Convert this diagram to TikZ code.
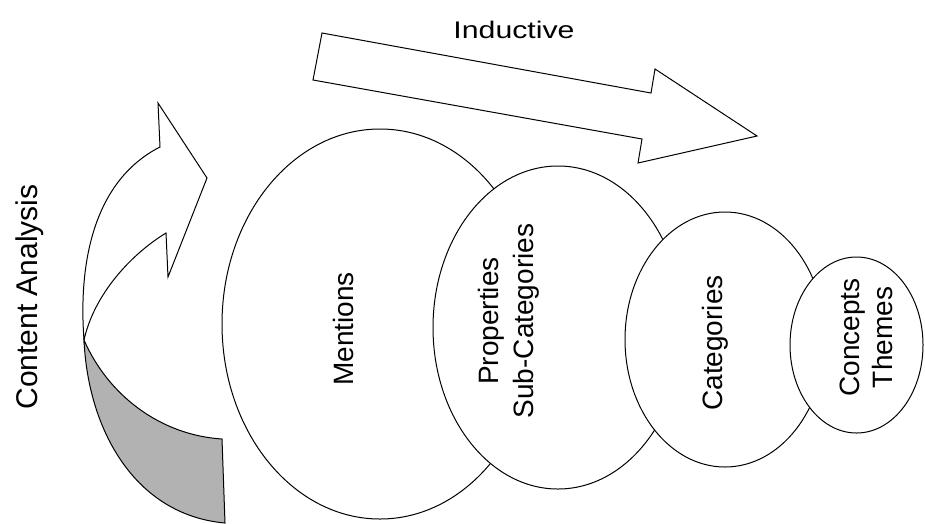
\documentclass[tikz,border=0pt]{standalone}
\usepackage{fontspec}
\setmainfont{Liberation Sans}
\usetikzlibrary{shapes.geometric}

\begin{document}
\begin{tikzpicture}[x=1pt, y=-1pt, line width=1pt,
		blob/.style={ellipse, draw, fill=white, inner sep=0pt},
		word/.style={rotate=90, inner sep=0pt, font=\fontsize{28}{35}\selectfont}]
		\useasboundingbox (0,0) rectangle (925,523);

		% Draw the curved arrow, back part first
		\filldraw[fill=black!30] (84,340) .. controls (108,395) and (160,435) .. (222,439)
			-- (225,523) .. controls (135,515) and (88,430) .. (84,340) -- cycle;
		\filldraw[fill=white] (160,147) -- (158,103) -- (207,178) -- (168,277) -- (166,233)
			.. controls (130,255) and (94,295) .. (84,340)
			.. controls (78,260) and (95,180) .. (160,147) -- cycle;
		\node[word, anchor=base, font=\fontsize{30}{36}\selectfont] (analysis) at (37,297) {Content Analysis};

		% Draw the straight arrow
		\filldraw[fill=white] (322,33) -- (651,93) -- (655,69) -- (757,136)
			-- (638,163) -- (642,139) -- (313,80) -- cycle;
		\node[anchor=base, inner sep=0pt, xscale=1.26, font=\fontsize{24}{28}\selectfont] (inductive) at (514,38) {Inductive};

		% Draw the four stages
		\node[blob, minimum width=316pt, minimum height=390pt] (mentions) at (380,324) {};
		\node[blob, minimum width=250pt, minimum height=323pt] (properties) at (558,327.5) {};
		\node[blob, minimum width=200pt, minimum height=255pt] (categories) at (725,339.5) {};
		\node[blob, minimum width=133pt, minimum height=176pt] (concepts) at (856.5,345) {};

		\node[word, anchor=base] (mentionstext) at (353,329) {Mentions};
		\node[word, align=center] (propertiestext) at (508.5,321) {Properties\\Sub-Categories};
		\node[word, anchor=base] (categoriestext) at (722,343) {Categories};
		\node[word, align=center, font=\fontsize{28}{33}\selectfont] (conceptstext) at (866.5,337.5) {Concepts\\Themes};

	\end{tikzpicture}
\end{document}
